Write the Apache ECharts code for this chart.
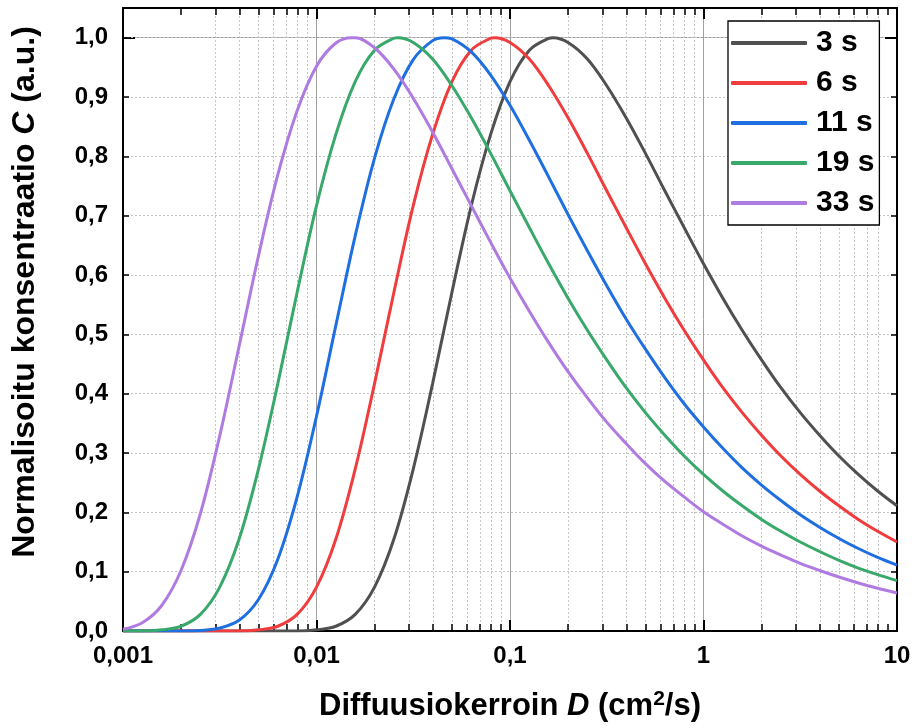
<!DOCTYPE html>
<html>
<head>
<meta charset="utf-8">
<script src="https://cdn.jsdelivr.net/npm/echarts@6/dist/echarts.min.js"></script>
<style>
  html, body { margin: 0; padding: 0; background: #fff; }
  #chart { width: 914px; height: 728px; }
</style>
</head>
<body>
<div id="chart"></div>
<script>
// Diffusion coefficient D (cm²/s), ten samples per decade
const diffusion = [
  0.001, 0.001259, 0.001585, 0.001995, 0.002512, 0.003162, 0.003981, 0.005012, 0.00631, 0.007943,
  0.01, 0.01259, 0.01585, 0.01995, 0.02512, 0.03162, 0.03981, 0.05012, 0.0631, 0.07943,
  0.1, 0.1259, 0.1585, 0.1995, 0.2512, 0.3162, 0.3981, 0.5012, 0.631, 0.7943,
  1, 1.259, 1.585, 1.995, 2.512, 3.162, 3.981, 5.012, 6.31, 7.943,
  10
];

const seriesNames = ['3 s', '6 s', '11 s', '19 s', '33 s'];

// Normalised concentration C at each D
const conc3s = [
  0, 0, 0, 0, 0, 0, 0, 0, 0, 0,
  0.002, 0.008, 0.028, 0.074, 0.155, 0.273, 0.417, 0.571, 0.717, 0.837,
  0.926, 0.979, 0.999, 0.992, 0.964, 0.919, 0.865, 0.805, 0.742, 0.680,
  0.619, 0.561, 0.507, 0.457, 0.410, 0.368, 0.330, 0.295, 0.264, 0.236,
  0.211
];
const conc6s = [
  0, 0, 0, 0, 0, 0, 0, 0.002, 0.008, 0.028,
  0.074, 0.155, 0.273, 0.417, 0.571, 0.717, 0.837, 0.926, 0.979, 0.999,
  0.992, 0.964, 0.919, 0.865, 0.805, 0.742, 0.680, 0.619, 0.561, 0.507,
  0.457, 0.410, 0.368, 0.330, 0.295, 0.264, 0.236, 0.211, 0.188, 0.168,
  0.150
];
const conc11s = [
  0, 0, 0, 0, 0.001, 0.005, 0.018, 0.053, 0.121, 0.226,
  0.362, 0.515, 0.666, 0.797, 0.897, 0.963, 0.995, 0.998, 0.976, 0.937,
  0.886, 0.827, 0.765, 0.702, 0.641, 0.582, 0.526, 0.475, 0.427, 0.383,
  0.344, 0.308, 0.275, 0.246, 0.220, 0.196, 0.175, 0.156, 0.139, 0.124,
  0.111
];
const conc19s = [
  0, 0, 0.002, 0.008, 0.028, 0.074, 0.155, 0.273, 0.417, 0.571,
  0.717, 0.837, 0.926, 0.979, 0.999, 0.992, 0.964, 0.919, 0.865, 0.805,
  0.742, 0.680, 0.619, 0.561, 0.507, 0.457, 0.410, 0.368, 0.330, 0.295,
  0.264, 0.236, 0.211, 0.188, 0.168, 0.150, 0.134, 0.119, 0.106, 0.095,
  0.085
];
const conc33s = [
  0.003, 0.014, 0.043, 0.102, 0.198, 0.329, 0.480, 0.632, 0.769, 0.877,
  0.952, 0.991, 1.000, 0.983, 0.947, 0.898, 0.841, 0.779, 0.717, 0.655,
  0.595, 0.539, 0.486, 0.437, 0.393, 0.352, 0.316, 0.282, 0.252, 0.226,
  0.201, 0.180, 0.160, 0.143, 0.128, 0.114, 0.102, 0.091, 0.081, 0.072,
  0.064
];

// Position and height of each curve's maximum
const peakD = [0.1667, 0.0833, 0.0455, 0.0263, 0.0152];
const peakC = [1.0, 1.0, 1.0, 1.0, 1.0];

const xTickLabels = ['0,001', '0,01', '0,1', '1', '10'];
const yTickLabels = ['0,0', '0,1', '0,2', '0,3', '0,4', '0,5', '0,6', '0,7', '0,8', '0,9', '1,0'];

const palette = ['#505050', '#f03c3c', '#1f6fe0', '#38a86b', '#b07be0'];
const FONT = '"Liberation Sans", Arial, sans-serif';

// minor log ticks: 2..9 within each decade
const minorX = [];
for (let e = -3; e <= 0; e++) {
  for (let m = 2; m <= 9; m++) minorX.push(+(m * Math.pow(10, e)).toPrecision(3));
}

const chart = echarts.init(document.getElementById('chart'), null, { renderer: 'canvas' });

const plotRect = { left: 123, right: 17, top: 8, bottom: 97 };
const logX = { type: 'log', logBase: 10, min: 0.001, max: 10 };
const linY = { type: 'value', min: 0, max: 1.05 };
const frameLine = { show: true, onZero: false, lineStyle: { color: '#000', width: 2 } };
const noLine = { show: false, onZero: false };
const noLabel = { show: false };
const noSplit = { show: false };
const majorTick = (len) => ({ show: true, inside: true, length: len, lineStyle: { color: '#000', width: 2 } });
const minorTick = (len, extra) => Object.assign({ show: true, inside: true, length: len,
  lineStyle: { color: '#000', width: 1.5 } }, extra || {});
const dotted = { show: true, showMinLine: false, showMaxLine: false,
  lineStyle: { color: '#c4c4c4', width: 1, type: [2, 2] } };
const solidGrid = { show: true, showMinLine: false, showMaxLine: false,
  lineStyle: { color: '#a0a0a0', width: 1 } };

const allSeries = [conc3s, conc6s, conc11s, conc19s, conc33s].map((vals, i) => {
  const pts = diffusion.map((d, k) => [d, vals[k]]);
  pts.push([peakD[i], peakC[i]]);
  pts.sort((a, b) => a[0] - b[0]);
  return {
    name: seriesNames[i],
    type: 'line',
    xAxisIndex: 0,
    yAxisIndex: 0,
    data: pts,
    showSymbol: false,
    smooth: 0.35,
    lineStyle: { width: 3, color: palette[i] },
    itemStyle: { color: palette[i] },
    z: 5
  };
});

chart.setOption({
  animation: false,
  backgroundColor: '#fff',
  // grid 0 holds the data, labels and decade grid; grid 1 (same rectangle) holds the minor ticks
  grid: [Object.assign({}, plotRect), Object.assign({}, plotRect)],
  xAxis: [
    Object.assign({}, logX, {
      gridIndex: 0, position: 'bottom', z: 2,
      axisLine: frameLine,
      axisTick: majorTick(11),
      axisLabel: {
        margin: 13, fontSize: 24, fontWeight: 'bold', color: '#000', fontFamily: FONT,
        formatter: v => xTickLabels[Math.round(Math.log10(v)) + 3]
      },
      splitLine: solidGrid,
      name: '{a|Diffuusiokerroin }{b|D}{a| (cm}{s|2}{a|/s)}',
      nameLocation: 'middle', nameGap: 58,
      nameTextStyle: {
        rich: {
          a: { fontSize: 31, fontWeight: 'bold', color: '#000', fontFamily: FONT, lineHeight: 34 },
          b: { fontSize: 31, fontWeight: 'bold', fontStyle: 'italic', color: '#000', fontFamily: FONT, lineHeight: 34 },
          s: { fontSize: 21, fontWeight: 'bold', color: '#000', fontFamily: FONT, lineHeight: 22, verticalAlign: 'top' }
        }
      }
    }),
    Object.assign({}, logX, {
      gridIndex: 0, position: 'top', z: 2,
      axisLine: frameLine,
      axisTick: majorTick(11),
      axisLabel: noLabel,
      splitLine: noSplit
    }),
    Object.assign({}, logX, {
      gridIndex: 1, position: 'bottom', z: 1,
      axisLine: noLine,
      axisTick: minorTick(7, { customValues: minorX }),
      axisLabel: noLabel,
      splitLine: dotted
    }),
    Object.assign({}, logX, {
      gridIndex: 1, position: 'top', z: 2,
      axisLine: noLine,
      axisTick: minorTick(7, { customValues: minorX }),
      axisLabel: noLabel,
      splitLine: noSplit
    })
  ],
  yAxis: [
    Object.assign({}, linY, {
      gridIndex: 0, position: 'left', interval: 0.1, z: 2,
      axisLine: frameLine,
      axisTick: minorTick(6),
      axisLabel: {
        margin: 15, fontSize: 24, fontWeight: 'bold', color: '#000', fontFamily: FONT,
        showMaxLabel: false,
        formatter: v => (v > 1.001 ? '' : yTickLabels[Math.round(v * 10)])
      },
      splitLine: dotted
    }),
    Object.assign({}, linY, {
      gridIndex: 0, position: 'right', interval: 0.1, z: 2,
      axisLine: frameLine,
      axisTick: minorTick(6),
      axisLabel: noLabel,
      splitLine: noSplit
    }),
    Object.assign({}, linY, {
      gridIndex: 1, position: 'left', interval: 1, z: 1,
      axisLine: noLine,
      axisTick: majorTick(12),
      axisLabel: noLabel,
      splitLine: solidGrid
    }),
    Object.assign({}, linY, {
      gridIndex: 1, position: 'right', interval: 1, z: 2,
      axisLine: noLine,
      axisTick: majorTick(12),
      axisLabel: noLabel,
      splitLine: noSplit
    })
  ],
  legend: {
    orient: 'vertical',
    left: 728, top: 21,
    padding: [7, 5, 7, 3],
    itemGap: 10,
    itemWidth: 76, itemHeight: 4,
    icon: 'roundRect',
    backgroundColor: '#fff',
    borderColor: '#000', borderWidth: 1.3, borderRadius: 0,
    textStyle: { fontSize: 30, fontWeight: 'bold', color: '#000', fontFamily: FONT,
      lineHeight: 30, padding: [0, 0, 0, 4] },
    data: seriesNames,
    z: 10
  },
  graphic: [
    {
      type: 'text',
      x: 25, y: 292,
      rotation: Math.PI / 2,
      style: {
        text: '{a|Normalisoitu konsentraatio }{b|C}{a| (a.u.)}',
        align: 'center', verticalAlign: 'middle',
        rich: {
          a: { fontSize: 32, fontWeight: 'bold', fill: '#000', fontFamily: FONT },
          b: { fontSize: 32, fontWeight: 'bold', fontStyle: 'italic', fill: '#000', fontFamily: FONT }
        }
      }
    }
  ],
  series: allSeries
});
</script>
</body>
</html>
